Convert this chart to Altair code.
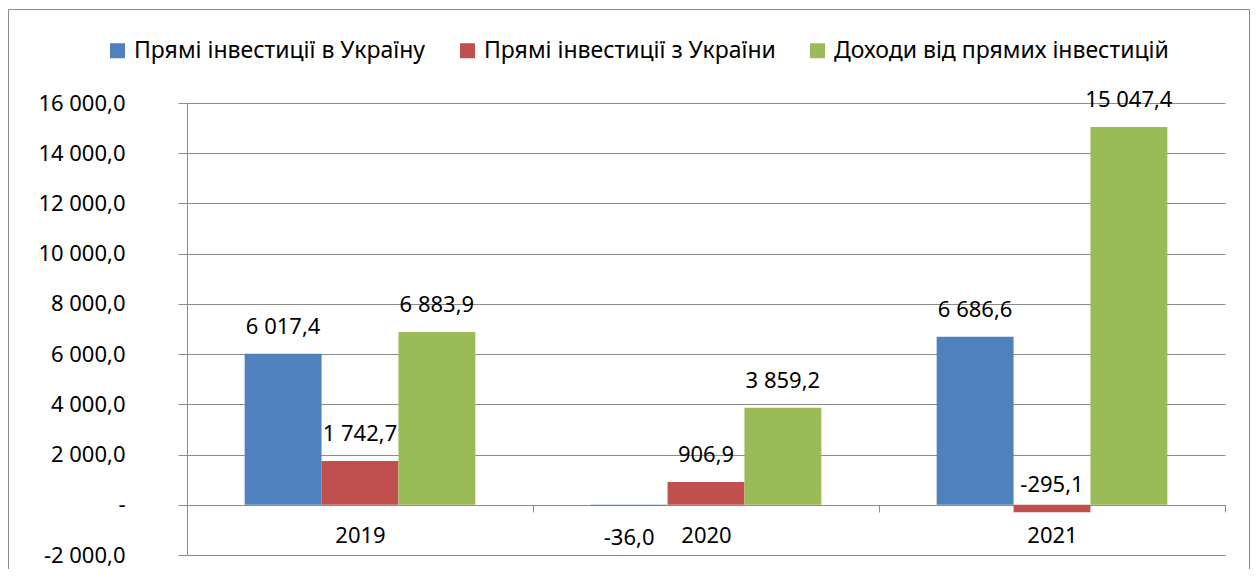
import altair as alt
import pandas as pd

years = ["2019", "2020", "2021"]
series = ["Прямі інвестиції в Україну", "Прямі інвестиції з України", "Доходи від прямих інвестицій"]
inward = [6017.4, -36.0, 6686.6]
outward = [1742.7, 906.9, -295.1]
income = [6883.9, 3859.2, 15047.4]
colors = ["#4F81BD", "#C0504D", "#9BBB59"]
y_ticks = [-2000, 0, 2000, 4000, 6000, 8000, 10000, 12000, 14000, 16000]

rows = []
for i, yr in enumerate(years):
    for s, vals in zip(series, [inward, outward, income]):
        rows.append({"year": yr, "series": s, "value": vals[i]})
df = pd.DataFrame(rows)

GRID = "#8c8c8c"
FONT = "Noto Sans"
FS = 22
LFS = 23

fmt = "replace(replace(replace(format(datum.value, ',.1f'), ',', ' '), '.', ','), '\u2212', '-')"

x_enc = alt.X(
    "year:N",
    sort=years,
    scale=alt.Scale(paddingInner=0, paddingOuter=0),
    axis=alt.Axis(
        title=None, orient="bottom", offset=-50, tickBand="extent",
        labelFontSize=FS, labelFont=FONT, labelColor="black", labelPadding=13,
        tickSize=7, tickColor=GRID, domainColor=GRID, labelAngle=0, grid=False,
    ),
)
xo_enc = alt.XOffset("series:N", sort=series, scale=alt.Scale(paddingInner=0, paddingOuter=0.75))
y_enc = alt.Y(
    "value:Q",
    scale=alt.Scale(domain=[-2000, 16000], nice=False, zero=False),
    axis=alt.Axis(
        values=y_ticks, title=None, grid=True, gridColor=GRID, gridOpacity=1,
        tickSize=9, tickColor=GRID, domainColor=GRID, labelPadding=53,
        labelFontSize=FS, labelFont=FONT, labelColor="black",
        labelExpr="datum.value == 0 ? '-\u00a0\u00a0' : " + fmt,
    ),
)
y_plain = alt.Y("value:Q")

base = alt.Chart(df)

bars = base.mark_bar().encode(
    x=x_enc,
    xOffset=xo_enc,
    y=y_enc,
    color=alt.Color(
        "series:N",
        sort=series,
        scale=alt.Scale(domain=series, range=colors),
        legend=alt.Legend(
            orient="none", legendX=-81, legendY=-64, direction="horizontal",
            title=None, symbolType="square", symbolSize=225, symbolStrokeWidth=0,
            labelFontSize=LFS, labelFont=FONT, labelColor="black", labelLimit=0,
            columnPadding=30, labelOffset=5,
        ),
    ),
)

labels_main = base.transform_filter(
    "datum.value >= 0 || datum.value < -100"
).transform_calculate(lbl=fmt).mark_text(
    dy=-27, baseline="middle", align="center", fontSize=FS, font=FONT, color="black"
).encode(x=alt.X("year:N", sort=years), xOffset=alt.XOffset("series:N", sort=series), y=y_plain, text="lbl:N")

labels_small = base.transform_filter(
    "datum.value < 0 && datum.value > -100"
).transform_calculate(lbl=fmt).mark_text(
    dy=32, baseline="middle", align="center", fontSize=FS, font=FONT, color="black"
).encode(x=alt.X("year:N", sort=years), xOffset=alt.XOffset("series:N", sort=series), y=y_plain, text="lbl:N")

frame = alt.Chart(pd.DataFrame({"a": [0]})).mark_rect(
    fillOpacity=0, stroke=GRID, strokeWidth=1
).encode(
    x=alt.value(-178.5), x2=alt.value(1062.5), y=alt.value(-93.5), y2=alt.value(800)
)

chart = alt.layer(frame, bars, labels_main, labels_small).properties(
    width=1038,
    height=452,
    padding={"left": 179, "top": 95, "right": 25, "bottom": 14},
    autosize=alt.AutoSizeParams(type="none"),
).configure_view(stroke=None)

chart.save("out.html", embed_options={"renderer": "svg", "actions": False})
